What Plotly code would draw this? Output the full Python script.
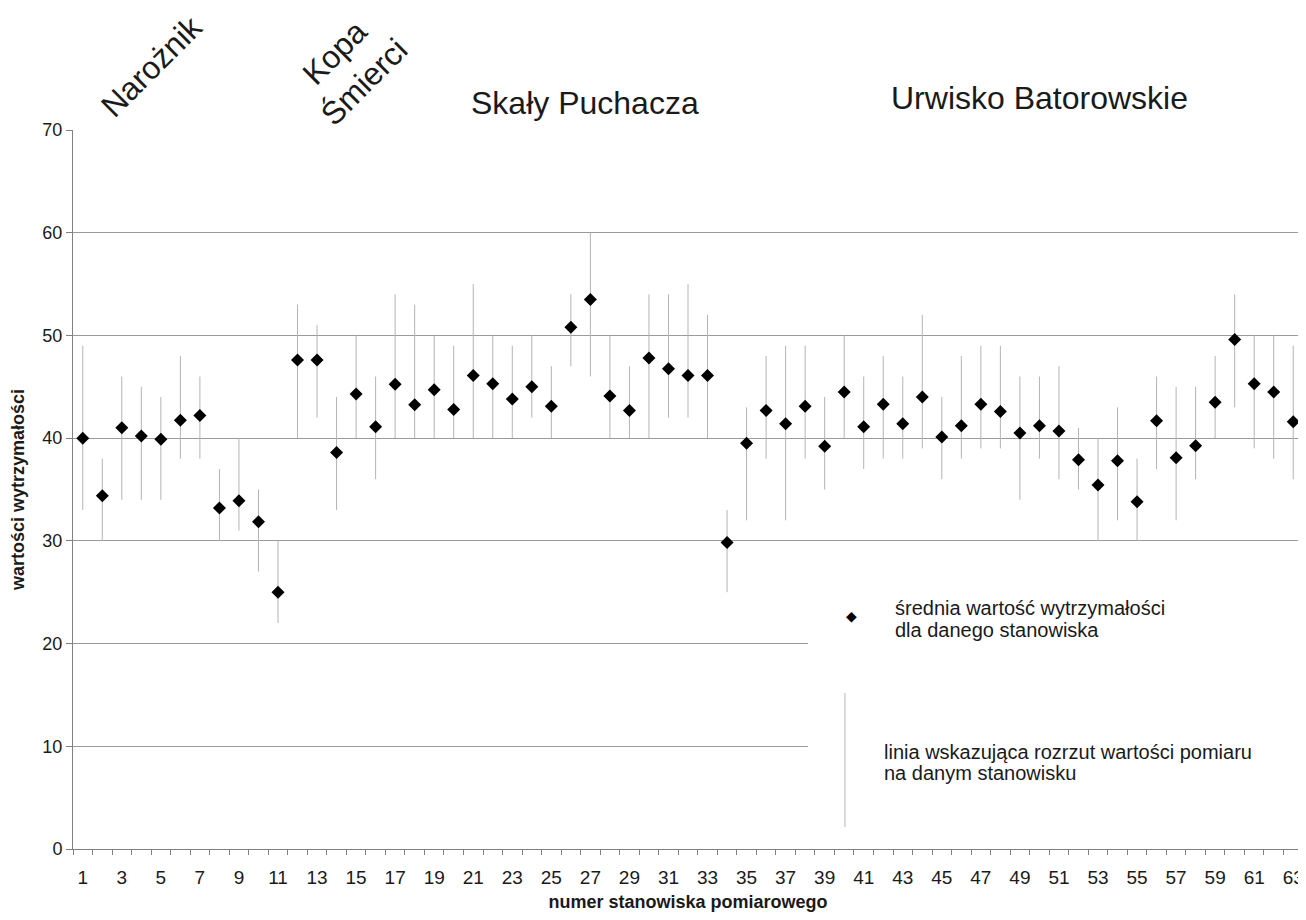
import plotly.graph_objects as go

stations = list(range(1, 64))
mean_vals = [40.0, 34.4, 41.0, 40.2, 39.9, 41.75, 42.2, 33.2, 33.9, 31.85,
             25.0, 47.6, 47.6, 38.6, 44.3, 41.1, 45.25, 43.25, 44.7, 42.8,
             46.1, 45.3, 43.8, 45.0, 43.1, 50.8, 53.5, 44.1, 42.7, 47.8,
             46.75, 46.1, 46.1, 29.85, 39.5, 42.7, 41.4, 43.1, 39.2, 44.5,
             41.1, 43.3, 41.4, 44.0, 40.1, 41.2, 43.3, 42.6, 40.5, 41.2,
             40.7, 37.9, 35.45, 37.8, 33.8, 41.7, 38.1, 39.25, 43.5, 49.6,
             45.3, 44.5, 41.6]
max_vals = [49, 38, 46, 45, 44, 48, 46, 37, 40, 35,
            30, 53, 51, 44, 50, 46, 54, 53, 50, 49,
            55, 50, 49, 50, 47, 54, 60, 50, 47, 54,
            54, 55, 52, 33, 43, 48, 49, 49, 44, 50,
            46, 48, 46, 52, 44, 48, 49, 49, 46, 46,
            47, 41, 40, 43, 38, 46, 45, 45, 48, 54,
            50, 50, 49]
min_vals = [33, 30, 34, 34, 34, 38, 38, 30, 31, 27,
            22, 40, 42, 33, 40, 36, 40, 40, 40, 40,
            40, 40, 40, 42, 40, 47, 46, 40, 40, 40,
            42, 42, 40, 25, 32, 38, 32, 38, 35, 40,
            37, 38, 38, 39, 36, 38, 39, 39, 34, 38,
            36, 35, 30, 32, 30, 37, 32, 36, 40, 43,
            39, 38, 36]
x_tick_labels = [str(i) for i in range(1, 64, 2)]
y_ticks = [0, 10, 20, 30, 40, 50, 60, 70]

FONT = "Liberation Sans, Arial, sans-serif"
NARROW = "Liberation Sans Narrow, Arial Narrow, Liberation Sans, sans-serif"
TXT = "#1a1a1a"
GRID = "#9a9a9a"
AX = "#808080"

err_plus = [h - m for h, m in zip(max_vals, mean_vals)]
err_minus = [m - l for m, l in zip(mean_vals, min_vals)]

fig = go.Figure()
fig.add_trace(go.Scatter(
    x=stations, y=mean_vals, mode="markers",
    marker=dict(symbol="diamond", size=10, color="#000000"),
    error_y=dict(type="data", symmetric=False, array=err_plus, arrayminus=err_minus,
                 width=0, thickness=1, color="#b4b4b4"),
    showlegend=False, cliponaxis=False,
))

fig.update_layout(
    width=1298, height=904,
    margin=dict(l=65, r=3, t=122, b=63),
    paper_bgcolor="white", plot_bgcolor="white",
    font=dict(family=FONT, color=TXT, size=16),
    xaxis=dict(
        range=[0.5, 63.5], tickmode="array",
        tickvals=list(range(1, 64, 2)), ticktext=x_tick_labels,
        ticks="", showgrid=False, zeroline=False,
        showline=True, linecolor=AX, linewidth=1, mirror=False,
        tickfont=dict(size=19, family=NARROW, color=TXT),
        ticklabelstandoff=11,
        minor=dict(ticks="outside", tickmode="linear", tick0=0.5, dtick=1,
                   ticklen=5, tickcolor=AX, tickwidth=1, showgrid=False),
        title=dict(text="<b>numer stanowiska pomiarowego</b>",
                   font=dict(size=18, family=FONT, color=TXT), standoff=8),
    ),
    xaxis2=dict(
        range=[0.5, 63.5], overlaying="x", anchor="y", side="bottom",
        tickmode="linear", tick0=0.5, dtick=1, ticks="inside", ticklen=5,
        tickcolor=AX, showticklabels=False, showgrid=False,
        zeroline=False, showline=False,
    ),
    yaxis=dict(
        range=[0, 70], tickmode="array", tickvals=y_ticks,
        ticks="outside", ticklen=6, tickcolor=AX,
        showgrid=True, gridcolor=GRID, gridwidth=1, zeroline=False,
        showline=True, linecolor=AX, linewidth=1, mirror=True,
        tickfont=dict(size=18, family=NARROW, color=TXT),
        title=dict(text="<b>wartości wytrzymałości</b>",
                   font=dict(size=18, family=FONT, color=TXT), standoff=16),
    ),
)

# white legend box covering gridlines
fig.add_shape(type="rect", xref="paper", yref="paper",
              x0=0.5976, x1=0.997, y0=0.012, y1=0.40,
              fillcolor="white", line=dict(width=0), layer="above")
# legend sample: vertical spread line
fig.add_shape(type="line", xref="paper", yref="paper",
              x0=0.6276, x1=0.6276, y0=0.0306, y1=0.217,
              line=dict(color="#b4b4b4", width=1), layer="above")


def note(x, y, text, size, xanchor="left", angle=0, family=FONT, color=TXT):
    fig.add_annotation(xref="paper", yref="paper", x=x, y=y, text=text,
                       xanchor=xanchor, yanchor="middle", align="left",
                       showarrow=False, textangle=angle,
                       font=dict(size=size, family=family, color=color))


note(0.6333, 0.324, "◆", 14, xanchor="center", family="DejaVu Sans", color="#000000")
note(0.6667, 0.335, "średnia wartość wytrzymałości", 20)
note(0.6667, 0.3046, "dla danego stanowiska", 20)
note(0.6577, 0.1349, "linia wskazująca rozrzut wartości pomiaru", 20)
note(0.6577, 0.1057, "na danym stanowisku", 20)

# region labels
note(0.4163, 1.0376, "Skały Puchacza", 32, xanchor="center")
note(0.786, 1.0445, "Urwisko Batorowskie", 32, xanchor="center")
note(0.0642, 1.089, "Narożnik", 32, xanchor="center", angle=-45)
fig.add_annotation(xref="paper", yref="paper", x=0.2252, y=1.0876,
                   text="Kopa<br>Śmierci", xanchor="center", yanchor="middle",
                   align="center", showarrow=False, textangle=-45,
                   font=dict(size=32, family=FONT, color=TXT))

fig.write_html("out.html")
